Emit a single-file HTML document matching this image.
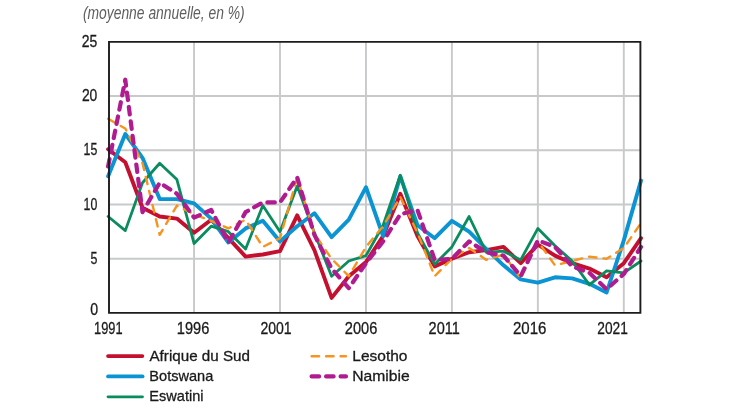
<!DOCTYPE html>
<html lang="fr"><head><meta charset="utf-8"><title>Inflation</title>
<style>html,body{margin:0;padding:0;background:#fff}body{width:730px;height:410px;overflow:hidden}svg{display:block}text{font-family:"Liberation Sans",sans-serif}</style></head><body>
<svg width="730" height="410" viewBox="0 0 730 410">
<rect width="730" height="410" fill="#fff"/>
<path d="M109.0,258.82H640.4M109.0,204.53H640.4M109.0,150.25H640.4M109.0,95.96H640.4M194.05,41.9V312.9M280.00,41.9V312.9M365.95,41.9V312.9M451.90,41.9V312.9M537.85,41.9V312.9M623.80,41.9V312.9" stroke="#c8c9cb" stroke-width="1.9" fill="none"/>
<g fill="none" stroke-linejoin="round" stroke-linecap="round">
<polyline points="108.1,149.2 125.3,162.2 142.5,207.8 159.7,216.5 176.9,218.6 194.1,232.8 211.2,219.7 228.4,238.2 245.6,256.6 262.8,254.5 280.0,251.2 297.2,215.4 314.4,250.1 331.6,297.9 348.8,276.2 366.0,262.1 383.1,236.0 400.3,193.7 417.5,236.0 434.7,266.4 451.9,258.8 469.1,252.3 486.3,250.1 503.5,246.9 520.7,263.2 537.9,244.7 555.0,255.6 572.2,263.2 589.4,268.6 606.6,277.3 623.8,263.2 641.0,238.2" stroke="#c40f2e" stroke-width="3.9"/>
<polyline points="108.1,176.3 125.3,134.0 142.5,157.8 159.7,199.1 176.9,199.1 194.1,203.4 211.2,218.6 228.4,242.5 245.6,228.4 262.8,220.8 280.0,241.4 297.2,226.2 314.4,213.2 331.6,237.1 348.8,219.7 366.0,187.2 383.1,236.0 400.3,176.3 417.5,225.2 434.7,238.2 451.9,220.8 469.1,231.7 486.3,249.0 503.5,265.3 520.7,279.4 537.9,282.7 555.0,277.3 572.2,278.4 589.4,283.8 606.6,292.5 623.8,240.4 641.0,180.6" stroke="#0a94d4" stroke-width="3.9"/>
<polyline points="108.1,216.5 125.3,230.6 142.5,182.8 159.7,163.3 176.9,179.6 194.1,243.6 211.2,226.2 228.4,231.7 245.6,249.0 262.8,205.6 280.0,231.7 297.2,186.1 314.4,232.8 331.6,276.2 348.8,261.0 366.0,255.6 383.1,225.2 400.3,175.2 417.5,232.8 434.7,264.2 451.9,246.9 469.1,216.5 486.3,252.3 503.5,251.2 520.7,259.9 537.9,228.4 555.0,245.8 572.2,261.0 589.4,284.9 606.6,270.8 623.8,272.9 641.0,261.0" stroke="#0a8c5f" stroke-width="2.8"/>
<polyline points="108.1,118.8 125.3,128.5 142.5,163.3 159.7,234.9 176.9,205.6 194.1,214.3 211.2,220.8 228.4,228.4 245.6,219.7 262.8,246.9 280.0,238.2 297.2,177.4 314.4,233.8 331.6,258.8 348.8,276.2 366.0,246.9 383.1,226.2 400.3,196.9 417.5,232.8 434.7,276.2 451.9,258.8 469.1,248.0 486.3,259.9 503.5,254.5 520.7,278.4 537.9,241.4 555.0,265.3 572.2,261.0 589.4,256.6 606.6,258.8 623.8,248.0 641.0,223.0" stroke="#f7941d" stroke-width="2.4" stroke-dasharray="7.5 7"/>
<polyline points="108.1,166.5 125.3,79.7 142.5,212.1 159.7,182.8 176.9,193.7 194.1,217.6 211.2,210.0 228.4,242.5 245.6,212.1 262.8,202.4 280.0,202.4 297.2,177.4 314.4,234.9 331.6,268.6 348.8,288.1 366.0,263.2 383.1,241.4 400.3,214.3 417.5,210.0 434.7,259.9 451.9,258.8 469.1,241.4 486.3,252.3 503.5,255.6 520.7,276.2 537.9,240.4 555.0,246.9 572.2,266.4 589.4,272.9 606.6,289.2 623.8,274.0 641.0,246.9" stroke="#b01c90" stroke-width="4.2" stroke-dasharray="7.5 7"/>
</g>
<path d="M109.0,312.9V41.9H640.4V312.9Z" stroke="#1c1c1c" stroke-width="1.9" fill="none" stroke-linejoin="miter"/>
<text transform="translate(82.90,18.5) scale(0.7297,1)" font-size="19" font-style="italic" fill="#5e5e5e">(moyenne annuelle, en %)</text>
<text transform="translate(81.80,47.0) scale(0.8136,1)" font-size="17.2" fill="#1a1a1a" stroke="#1a1a1a" stroke-width="0.3">25</text>
<text transform="translate(81.90,101.2) scale(0.8082,1)" font-size="17.2" fill="#1a1a1a" stroke="#1a1a1a" stroke-width="0.3">20</text>
<text transform="translate(83.58,155.4) scale(0.7176,1)" font-size="17.2" fill="#1a1a1a" stroke="#1a1a1a" stroke-width="0.3">15</text>
<text transform="translate(83.58,209.6) scale(0.7176,1)" font-size="17.2" fill="#1a1a1a" stroke="#1a1a1a" stroke-width="0.3">10</text>
<text transform="translate(90.40,263.9) scale(0.7222,1)" font-size="17.2" fill="#1a1a1a" stroke="#1a1a1a" stroke-width="0.3">5</text>
<text transform="translate(90.20,314.8) scale(0.8222,1)" font-size="17.2" fill="#1a1a1a" stroke="#1a1a1a" stroke-width="0.3">0</text>
<text transform="translate(94.06,333.9) scale(0.7443,1)" font-size="17.2" fill="#1a1a1a" stroke="#1a1a1a" stroke-width="0.3">1991</text>
<text transform="translate(176.85,333.9) scale(0.8507,1)" font-size="17.2" fill="#1a1a1a" stroke="#1a1a1a" stroke-width="0.3">1996</text>
<text transform="translate(260.50,333.9) scale(0.8148,1)" font-size="17.2" fill="#1a1a1a" stroke="#1a1a1a" stroke-width="0.3">2001</text>
<text transform="translate(344.80,333.9) scale(0.8493,1)" font-size="17.2" fill="#1a1a1a" stroke="#1a1a1a" stroke-width="0.3">2006</text>
<text transform="translate(428.60,333.9) scale(0.8434,1)" font-size="17.2" fill="#1a1a1a" stroke="#1a1a1a" stroke-width="0.3">2011</text>
<text transform="translate(512.90,333.9) scale(0.8759,1)" font-size="17.2" fill="#1a1a1a" stroke="#1a1a1a" stroke-width="0.3">2016</text>
<text transform="translate(597.30,333.9) scale(0.7989,1)" font-size="17.2" fill="#1a1a1a" stroke="#1a1a1a" stroke-width="0.3">2021</text>
<text transform="translate(149.50,360.6) scale(0.9987,1)" font-size="15.2" fill="#1a1a1a" stroke="#1a1a1a" stroke-width="0.3">Afrique du Sud</text>
<text transform="translate(149.34,381.0) scale(0.9585,1)" font-size="15.2" fill="#1a1a1a" stroke="#1a1a1a" stroke-width="0.3">Botswana</text>
<text transform="translate(149.34,401.4) scale(0.9587,1)" font-size="15.2" fill="#1a1a1a" stroke="#1a1a1a" stroke-width="0.3">Eswatini</text>
<text transform="translate(352.28,360.6) scale(1.0209,1)" font-size="15.2" fill="#1a1a1a" stroke="#1a1a1a" stroke-width="0.3">Lesotho</text>
<text transform="translate(352.27,380.9) scale(1.0321,1)" font-size="15.2" fill="#1a1a1a" stroke="#1a1a1a" stroke-width="0.3">Namibie</text>
<g fill="none" stroke-linecap="round">
<path d="M108.1,356.1H142.3" stroke="#c40f2e" stroke-width="3.9"/>
<path d="M108.1,376.4H142.5" stroke="#0a94d4" stroke-width="3.9"/>
<path d="M108.0,396.8H142.5" stroke="#0a8c5f" stroke-width="2.8"/>
<path d="M311.6,356.3H345.9" stroke="#f7941d" stroke-width="2.4" stroke-dasharray="7.5 7"/>
<path d="M311.6,376.4H346.0" stroke="#b01c90" stroke-width="4.2" stroke-dasharray="7.5 7"/>
</g>
</svg></body></html>
